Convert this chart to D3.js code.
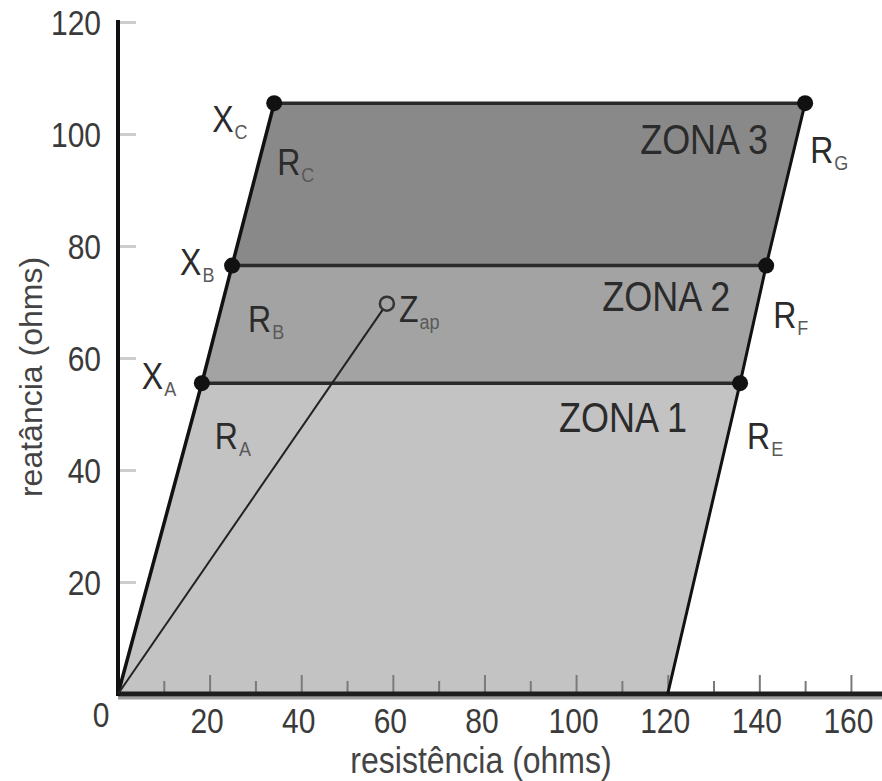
<!DOCTYPE html>
<html>
<head>
<meta charset="utf-8">
<script src="https://cdn.jsdelivr.net/npm/d3@7"></script>
<style>
  body { margin: 0; background: #fff; }
  text { font-family: "Liberation Sans", Arial, sans-serif; }
</style>
</head>
<body>
<div id="chart"></div>
<script>
"use strict";

// reactance (ohms) at the bottom and top of each zone
const zoneLevels = [0, 55.5, 76.5, 105.5];
// resistance (ohms) of the left boundary at each level
const leftR = [0, 18.3, 24.9, 34.1];
// resistance (ohms) of the right boundary at each level
const rightR = [120, 135.8, 141.5, 150];
const zoneNames = ["ZONA 1", "ZONA 2", "ZONA 3"];
const leftPointNames = [["X", "A"], ["X", "B"], ["X", "C"]];
const leftReachNames = [["R", "A"], ["R", "B"], ["R", "C"]];
const rightReachNames = [["R", "E"], ["R", "F"], ["R", "G"]];
// apparent impedance [R, X]
const zApparent = [58.7, 69.7];
const zApparentName = ["Z", "ap"];

const xTicks = [20, 40, 60, 80, 100, 120, 140, 160];
const xMinorTicks = [10, 30, 50, 70, 90, 110, 130, 150];
const yTicks = [20, 40, 60, 80, 100, 120];

// ---- layout ----
const width = 882, height = 781;
const stretch = 1.17;   // text in the figure is a bit taller than wide
const zoneFill = ["#c3c3c3", "#a3a3a3", "#898989"];

// pixel offsets of the labels from the point they describe
const xLabelOffset = [[-60, 6], [-52, 9], [-62, 29]];
const rLeftOffset = [[13, 66], [16, 66], [3, 72]];
const rRightOffset = [[7, 66], [7, 62], [5, 60]];
const zoneLabelOffset = [[-53, 49], [-36, 45], [-37, 51]];

let svg = d3.select("#chart").append("svg")
    .attr("width", width)
    .attr("height", height)
    .style("background", "#fff");

let x = d3.scaleLinear().domain([0, 167]).range([118, 883]);
let y = d3.scaleLinear().domain([0, 120]).range([694, 22]);

//zones
const zones = zoneNames.map((name, i) => [
    [leftR[i], zoneLevels[i]],
    [rightR[i], zoneLevels[i]],
    [rightR[i + 1], zoneLevels[i + 1]],
    [leftR[i + 1], zoneLevels[i + 1]]
]);
const line = d3.line().x(d => x(d[0])).y(d => y(d[1]));

svg.append("g").selectAll("path")
    .data(zones)
    .enter()
    .append("path")
    .attr("d", d => line(d) + "Z")
    .attr("fill", (_, i) => zoneFill[i]);

//x axis ticks (pointing up)
svg.append("g")
    .attr("transform", `translate(0,${y(0)})`)
    .call(d3.axisBottom(x).tickValues(xMinorTicks).tickSizeInner(-13).tickSizeOuter(0).tickFormat(""))
    .call(g => g.select(".domain").remove())
    .call(g => g.selectAll("line").attr("stroke", "#7a7a7a").attr("stroke-width", 2));

let xAxis = svg.append("g")
    .attr("transform", `translate(0,${y(0)})`)
    .call(d3.axisBottom(x).tickValues(xTicks).tickSizeInner(-19).tickSizeOuter(0));
xAxis.select(".domain").remove();
xAxis.selectAll("line").attr("stroke", "#7a7a7a").attr("stroke-width", 2);
xAxis.selectAll("text")
    .attr("y", null).attr("dy", null)
    .attr("transform", `translate(-3,39) scale(1,${stretch})`)
    .attr("font-size", 30)
    .attr("font-family", null)
    .attr("fill", "#3a3a3a");

//y axis ticks (pointing right)
let yAxis = svg.append("g")
    .attr("transform", `translate(${x(0)},0)`)
    .call(d3.axisLeft(y).tickValues(yTicks).tickSizeInner(-18).tickSizeOuter(0).tickPadding(17));
yAxis.select(".domain").remove();
yAxis.selectAll("line").attr("stroke", "#cdcdcd").attr("stroke-width", 3);
yAxis.selectAll("text")
    .attr("x", null).attr("dy", null)
    .attr("transform", `translate(-17,12) scale(1,${stretch})`)
    .attr("font-size", 30)
    .attr("font-family", null)
    .attr("fill", "#3a3a3a");

//shared origin label
svg.append("text")
    .attr("transform", `translate(${x(0) - 17},${y(0) + 33}) scale(1,${stretch})`)
    .attr("text-anchor", "middle")
    .attr("font-size", 30)
    .attr("fill", "#3a3a3a")
    .text("0");

//axis lines
svg.append("line")
    .attr("x1", x(0)).attr("x2", width)
    .attr("y1", y(0) + 4).attr("y2", y(0) + 4)
    .attr("stroke", "#a0a0a0").attr("stroke-width", 3);
svg.append("line")
    .attr("x1", x(0)).attr("x2", width)
    .attr("y1", y(0)).attr("y2", y(0))
    .attr("stroke", "#1e1e1e").attr("stroke-width", 5);
svg.append("line")
    .attr("x1", x(0)).attr("x2", x(0))
    .attr("y1", y(0)).attr("y2", y(120))
    .attr("stroke", "#111").attr("stroke-width", 4)
    .attr("stroke-linecap", "square");

//axis titles
svg.append("text")
    .attr("transform", `translate(481,773) scale(1,${stretch})`)
    .attr("text-anchor", "middle")
    .attr("font-size", 32)
    .attr("fill", "#444")
    .text("resistência (ohms)");
svg.append("text")
    .attr("transform", "translate(42,377) rotate(-90)")
    .attr("text-anchor", "middle")
    .attr("font-size", 32)
    .attr("fill", "#444")
    .text("reatância (ohms)");

//zone limits
zoneLevels.slice(1).forEach((lv, i) => {
    svg.append("line")
        .attr("x1", x(leftR[i + 1])).attr("x2", x(rightR[i + 1]))
        .attr("y1", y(lv)).attr("y2", y(lv))
        .attr("stroke", "#2a2a2a").attr("stroke-width", 3.5);
});
svg.append("path")
    .attr("d", line(leftR.map((r, i) => [r, zoneLevels[i]])))
    .attr("fill", "none").attr("stroke", "#111").attr("stroke-width", 3.5);
svg.append("path")
    .attr("d", line(rightR.map((r, i) => [r, zoneLevels[i]])))
    .attr("fill", "none").attr("stroke", "#111").attr("stroke-width", 3);

//apparent impedance
svg.append("line")
    .attr("x1", x(0)).attr("y1", y(0))
    .attr("x2", x(zApparent[0])).attr("y2", y(zApparent[1]))
    .attr("stroke", "#222").attr("stroke-width", 2);
svg.append("circle")
    .attr("cx", x(zApparent[0])).attr("cy", y(zApparent[1]))
    .attr("r", 7)
    .attr("fill", zoneFill[1])
    .attr("stroke", "#333").attr("stroke-width", 2.5);

//corner dots
const corners = [];
zoneLevels.slice(1).forEach((lv, i) => {
    corners.push([leftR[i + 1], lv]);
    corners.push([rightR[i + 1], lv]);
});
svg.append("g").selectAll("circle")
    .data(corners)
    .enter()
    .append("circle")
    .attr("cx", d => x(d[0]))
    .attr("cy", d => y(d[1]))
    .attr("r", 8)
    .attr("fill", "#111");

/**
 * Writes a symbol with a subscript, e.g. X with subscript A
 */
function symbol(g, px, py, name) {
    let t = g.append("text")
        .attr("transform", `translate(${px},${py}) scale(1,${stretch})`)
        .attr("font-size", 32)
        .attr("fill", "#2b2b2b")
        .text(name[0]);
    const w = t.node().getComputedTextLength();
    g.append("text")
        .attr("transform", `translate(${px + w + 1},${py + 7}) scale(1,${stretch})`)
        .attr("font-size", 18)
        .attr("fill", "#5a5a5a")
        .text(name[1]);
}

let labels = svg.append("g");
leftPointNames.forEach((n, i) => {
    const px = x(leftR[i + 1]), py = y(zoneLevels[i + 1]);
    symbol(labels, px + xLabelOffset[i][0], py + xLabelOffset[i][1], n);
    symbol(labels, px + rLeftOffset[i][0], py + rLeftOffset[i][1], leftReachNames[i]);
});
rightReachNames.forEach((n, i) => {
    const px = x(rightR[i + 1]), py = y(zoneLevels[i + 1]);
    symbol(labels, px + rRightOffset[i][0], py + rRightOffset[i][1], n);
    labels.append("text")
        .attr("transform", `translate(${px + zoneLabelOffset[i][0]},${py + zoneLabelOffset[i][1]}) scale(1,${stretch})`)
        .attr("text-anchor", "end")
        .attr("font-size", 36)
        .attr("fill", "#2b2b2b")
        .text(zoneNames[i]);
});
symbol(labels, x(zApparent[0]) + 12, y(zApparent[1]) + 18, zApparentName);
</script>
</body>
</html>
